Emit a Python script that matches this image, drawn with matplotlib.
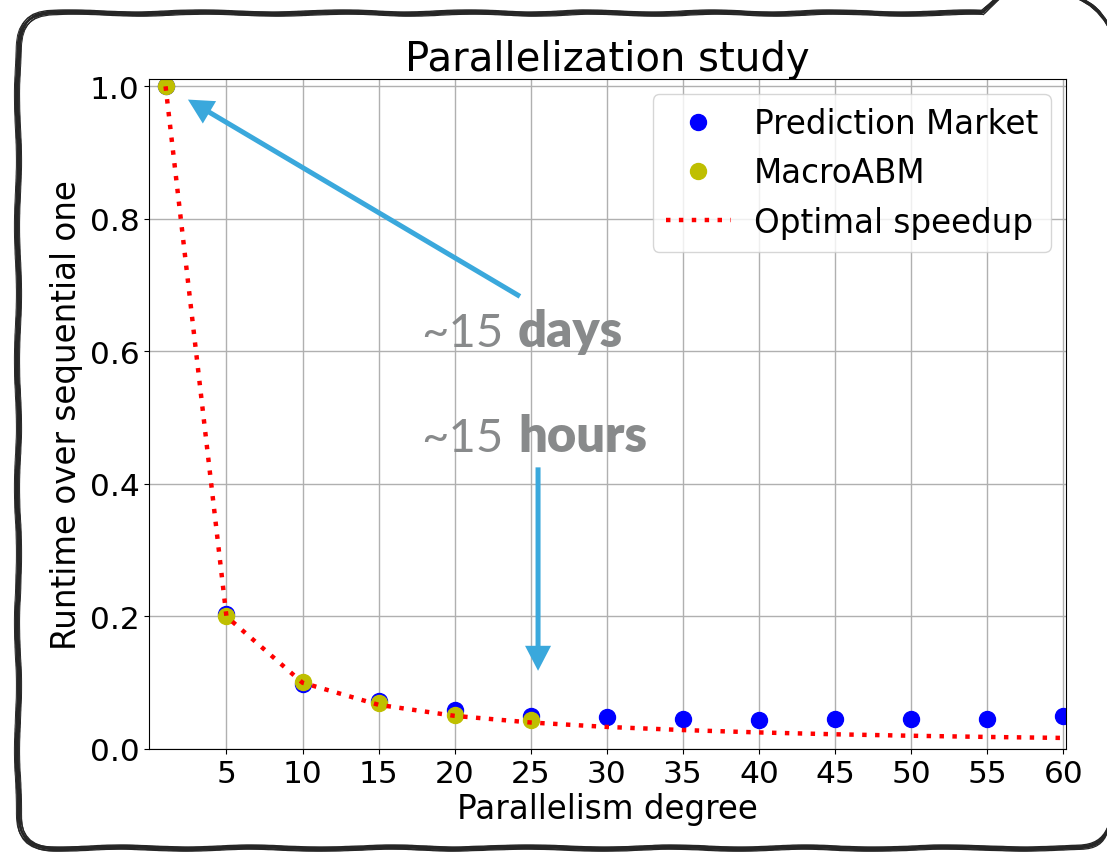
import matplotlib
matplotlib.use("Agg")
import matplotlib.pyplot as plt
from matplotlib.path import Path
from matplotlib.patches import PathPatch

plt.rcParams["font.family"] = ["DejaVu Sans"]

# ---- data -------------------------------------------------------------
degree = [1, 5, 10, 15, 20, 25, 30, 35, 40, 45, 50, 55, 60]
prediction_market = [1.0, 0.204, 0.098, 0.073, 0.059, 0.050, 0.048, 0.045,
                     0.044, 0.045, 0.045, 0.045, 0.050]
macro_degree = [1, 5, 10, 15, 20, 25]
macro_abm = [1.0, 0.200, 0.101, 0.069, 0.051, 0.044]
optimal_speedup = [1.0, 0.2, 0.1, 0.0667, 0.05, 0.04, 0.0333, 0.0286,
                   0.025, 0.0222, 0.02, 0.0182, 0.0167]
xticks = [5, 10, 15, 20, 25, 30, 35, 40, 45, 50, 55, 60]
yticks = [0.0, 0.2, 0.4, 0.6, 0.8, 1.0]

W, H = 1107, 854
fig = plt.figure(figsize=(W / 100, H / 100), dpi=100)
fig.patch.set_facecolor("white")


def px(x, y):
    """pixel position (from top-left) -> figure fraction"""
    return x / W, 1 - y / H


# ---- hand-drawn frame ---------------------------------------------------
bax = fig.add_axes([0, 0, 1, 1], zorder=-1)
bax.set_xlim(0, W)
bax.set_ylim(H, 0)
bax.axis("off")

M, Lc, C3 = Path.MOVETO, Path.LINETO, Path.CURVE3


def frame_paths(dx, dy):
    L, T, B, r = 18 + dx, 14 + dy, 849 + dy, 34
    body = Path([(998 + dx, -1), (983 + dx, T), (L + r, T), (L, T),
                 (L, T + r), (L, B - r), (L, B), (L + r, B),
                 (1080 + dx, B), (1102 + dx, B), (1108, B - 18)],
                [M, Lc, Lc, C3, C3, Lc, C3, C3, Lc, C3, C3])
    tail = Path([(1078 + dx, -1), (1098 + dx, 6), (1108, 24 + dy)],
                [M, C3, C3])
    return body, tail


strokes = [((0, 0), 1.6), ((1.8, -1.3), 1.0), ((-1.6, 1.4), 1.1),
           ((1.0, 2.2), 0.9), ((-1.0, -2.0), 1.0), ((2.6, 0.6), 0.7),
           ((-2.6, -0.5), 0.7), ((0.4, -0.6), 1.2)]
for (dx, dy), lw in strokes:
    for path in frame_paths(dx, dy):
        p = PathPatch(path, fill=False, edgecolor="#262626", lw=lw,
                      capstyle="round", joinstyle="round")
        p.set_sketch_params(scale=1.0, length=160, randomness=3)
        bax.add_patch(p)

# ---- main axes ----------------------------------------------------------
ax = fig.add_axes([149.3 / W, 1 - 750 / H, (1065.7 - 149.3) / W,
                   (750 - 80.3) / H])

ax.plot(degree, prediction_market, "o", color="blue", markersize=11.5,
        label="Prediction Market")
ax.plot(macro_degree, macro_abm, "o", color=(0.75, 0.75, 0), markersize=11.5,
        label="MacroABM")
ax.plot(degree, optimal_speedup, color="red", lw=3.2,
        linestyle=(0, (1, 1.9)), label="Optimal speedup")

ax.set_xlim(-0.07, 60.16)
ax.set_ylim(0, 1.0106)
ax.set_xticks(xticks)
ax.set_yticks(yticks)
ax.set_yticklabels([f"{v:.1f}" for v in yticks])
ax.tick_params(labelsize=22.5, direction="out", length=3.5, width=0.8)
ax.grid(True, color="#b0b0b0", lw=1.0)
for s in ax.spines.values():
    s.set_linewidth(0.8)

ax.set_title("Parallelization study", fontsize=29, pad=1.5)
ax.set_xlabel("Parallelism degree", fontsize=23.5, labelpad=3)
ax.set_ylabel("Runtime over sequential one", fontsize=23.5, labelpad=5)

ax.legend(loc="upper right", fontsize=23.5, numpoints=1, framealpha=0.8,
          edgecolor="0.8", fancybox=True, borderaxespad=0.45,
          handletextpad=0.7)

# ---- call-out arrows and labels ----------------------------------------
arrow_color = "#3aa8dc"
arrow_style = "simple,head_length=0.5,head_width=0.52,tail_width=0.1"
ax.annotate("", xy=(2.47, 0.980), xytext=(24.29, 0.683),
            arrowprops=dict(arrowstyle=arrow_style, color=arrow_color,
                            lw=0, shrinkA=0, shrinkB=0, mutation_scale=36),
            zorder=5)
ax.annotate("", xy=(25.48, 0.118), xytext=(25.48, 0.425),
            arrowprops=dict(arrowstyle=arrow_style, color=arrow_color,
                            lw=0, shrinkA=0, shrinkB=0, mutation_scale=36),
            zorder=5)

gray = "#888a8b"
for base_y, word in [(347, "days"), (452, "hours")]:
    fig.text(*px(421, base_y), "~15", family="Lato", fontsize=34,
             color=gray, va="baseline", ha="left", zorder=6)
    fig.text(*px(518, base_y), word, family="Lato", fontweight="heavy",
             fontsize=36.5, color=gray, va="baseline", ha="left", zorder=6)

fig.savefig("out.png", dpi=100, facecolor="white")
